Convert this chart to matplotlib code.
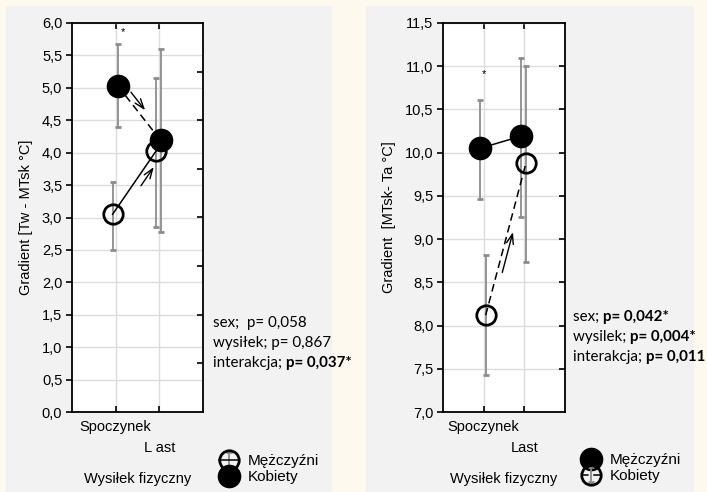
import matplotlib
matplotlib.use('Agg')
import matplotlib.pyplot as plt
from matplotlib.patches import Rectangle
from matplotlib.transforms import ScaledTranslation
import numpy as np

plt.rcParams['font.family'] = ['Liberation Sans', 'DejaVu Sans']

# dane
etapy_lewy = ['Spoczynek', 'L ast']
etapy_prawy = ['Spoczynek', 'Last']

# lewy panel: Gradient [Tw - MTsk]
lewy_m = [3.05, 4.02]          # Mężczyźni (puste kółka)
lewy_m_low = [2.50, 2.85]
lewy_m_high = [3.55, 5.15]
lewy_k = [5.03, 4.19]          # Kobiety (pełne kółka)
lewy_k_low = [4.40, 2.77]
lewy_k_high = [5.67, 5.60]

# prawy panel: Gradient [MTsk - Ta]
prawy_m = [10.05, 10.19]       # Mężczyźni (pełne kółka)
prawy_m_low = [9.46, 9.26]
prawy_m_high = [10.61, 11.10]
prawy_k = [8.12, 9.88]         # Kobiety (puste kółka)
prawy_k_low = [7.43, 8.74]
prawy_k_high = [8.82, 11.00]

staty_lewy = [('sex;  p= 0,058', ''), ('wysiłek; p= 0,867', ''), ('interakcja; ', 'p= 0,037*')]
staty_prawy = [('sex; ', 'p= 0,042*'), ('wysilek; ', 'p= 0,004*'), ('interakcja; ', 'p= 0,011')]

W, H = 707, 492
fig = plt.figure(figsize=(W / 100, H / 100), dpi=100, facecolor='#FEF9EE')

# szare tla paneli
fig.patches.append(Rectangle((6 / W, 0), 326 / W, 486 / H, transform=fig.transFigure,
                             facecolor='#F2F2F2', edgecolor='none', zorder=-10))
fig.patches.append(Rectangle((366 / W, 0), 328 / W, 486 / H, transform=fig.transFigure,
                             facecolor='#F2F2F2', edgecolor='none', zorder=-10))

GRAY = '#8c8c8c'


def seria(ax, x, y, low, high, filled, ls, label):
    y = np.array(y)
    yerr = [y - np.array(low), np.array(high) - y]
    c = ax.errorbar(x, y, yerr=yerr, fmt='o', color='black', ecolor=GRAY, elinewidth=1.3,
                    capsize=2.5, capthick=1.0, linestyle=ls, linewidth=1.1,
                    dashes=(5, 3) if ls == '--' else (None, None),
                    markersize=15 if filled else 14,
                    markerfacecolor='black' if filled else 'none',
                    markeredgewidth=2.0, markeredgecolor='black', label=label)
    return c


def strzalka(ax, x, y, f0, f1, dx, dy):
    # strzalka rownolegla do linii, przesunieta o (dx, dy) pikseli
    off = ax.transData + ScaledTranslation(dx / 100, dy / 100, fig.dpi_scale_trans)
    p0 = (x[0] + f0 * (x[1] - x[0]), y[0] + f0 * (y[1] - y[0]))
    p1 = (x[0] + f1 * (x[1] - x[0]), y[0] + f1 * (y[1] - y[0]))
    ax.annotate('', xy=p1, xytext=p0, xycoords=off, textcoords=off,
                arrowprops=dict(arrowstyle='->,head_length=0.7,head_width=0.25', lw=1.0, color='black'))


def panel(ax, ymin, ymax, step, rstep, ylabel, etapy):
    ax.set_xlim(0, 3)
    ax.set_ylim(ymin, ymax)
    ax.set_yticks(np.arange(ymin, ymax + 0.01, step))
    ax.set_yticklabels([('%.1f' % v).replace('.', ',') for v in np.arange(ymin, ymax + 0.01, step)])
    ax.set_xticks([1, 2])
    ax.set_xticklabels(etapy)
    ax.grid(True, color='#dcdcdc', linewidth=1.0)
    ax.set_axisbelow(True)
    for s in ax.spines.values():
        s.set_linewidth(1.3)
    ax.tick_params(axis='y', direction='out', length=4, width=1.2, labelsize=10.5, pad=3)
    ax.tick_params(axis='x', direction='in', length=4, width=1.2, top=True, labelsize=10.5, pad=6)
    ax.xaxis.get_major_ticks()[1].set_pad(21)
    ax.set_ylabel(ylabel, fontsize=10.5, labelpad=6)
    ax.set_xlabel('Wysiłek fizyczny', fontsize=10.5, labelpad=12)
    tw = ax.twinx()
    tw.set_ylim(ymin, ymax)
    tw.set_yticks(np.arange(ymin + rstep, ymax - 0.01, rstep))
    tw.tick_params(axis='y', direction='in', length=4, width=1.2, labelright=False)
    for s in tw.spines.values():
        s.set_visible(False)


def staty(linie, x0, y0):
    for i, (norm, bold) in enumerate(linie):
        t = fig.text(x0 / W, 1 - (y0 + 20 * i) / H, norm, fontsize=10.9, family=['Lato', 'DejaVu Sans'],
                     va='center', ha='left')
        if bold:
            fig.canvas.draw()
            bb = t.get_window_extent()
            fig.text(bb.x1 / W, 1 - (y0 + 20 * i) / H, bold, fontsize=10.9, fontweight='bold',
                     family=['Lato', 'DejaVu Sans'], va='center', ha='left')


# ---- lewy panel ----
ax1 = fig.add_axes([72 / W, 1 - 412 / H, 131 / W, 389 / H])
panel(ax1, 0.0, 6.0, 0.5, 0.75, 'Gradient [Tw - MTsk °C]', etapy_lewy)
xm1 = [0.93, 1.92]
xk1 = [1.05, 2.03]
c_m1 = seria(ax1, xm1, lewy_m, lewy_m_low, lewy_m_high, False, '-', 'Mężczyźni')
c_k1 = seria(ax1, xk1, lewy_k, lewy_k_low, lewy_k_high, True, '--', 'Kobiety')
strzalka(ax1, xk1, lewy_k, 0.15, 0.56, 5, 4)
strzalka(ax1, xm1, lewy_m, 0.48, 0.85, 6, -4)
ax1.annotate('*', xy=(1.17, max(lewy_k_high)), xytext=(0, 5), textcoords='offset points',
             ha='center', va='bottom', fontsize=8)
ax1.legend(handles=[c_m1, c_k1], loc='center left', bbox_to_anchor=(219 / W, 1 - 469 / H),
           bbox_transform=fig.transFigure, frameon=False, fontsize=11, handlelength=1.3,
           handletextpad=0.6, labelspacing=0.15, borderpad=0, borderaxespad=0)

# ---- prawy panel ----
ax2 = fig.add_axes([443 / W, 1 - 412 / H, 122 / W, 389 / H])
panel(ax2, 7.0, 11.5, 0.5, 0.5, 'Gradient  [MTsk- Ta °C]', etapy_prawy)
xm2 = [0.91, 1.91]
xk2 = [1.05, 2.04]
c_m2 = seria(ax2, xm2, prawy_m, prawy_m_low, prawy_m_high, True, '-', 'Mężczyźni')
c_k2 = seria(ax2, xk2, prawy_k, prawy_k_low, prawy_k_high, False, '--', 'Kobiety')
strzalka(ax2, xk2, prawy_k, 0.27, 0.57, 5, -1)
ax2.annotate('*', xy=(1.01, prawy_m_high[0]), xytext=(0, 15), textcoords='offset points',
             ha='center', va='bottom', fontsize=8)
ax2.legend(handles=[c_m2, c_k2], loc='center left', bbox_to_anchor=(581 / W, 1 - 468 / H),
           bbox_transform=fig.transFigure, frameon=False, fontsize=11, handlelength=1.3,
           handletextpad=0.6, labelspacing=0.15, borderpad=0, borderaxespad=0)

staty(staty_lewy, 213, 323)
staty(staty_prawy, 573, 317)

fig.savefig('out.png', dpi=100, facecolor=fig.get_facecolor())
